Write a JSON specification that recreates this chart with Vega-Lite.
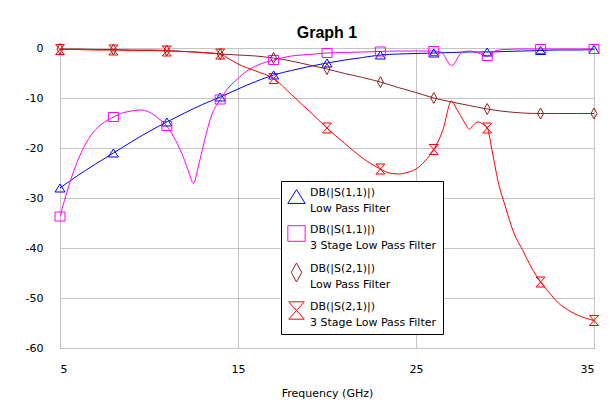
{
  "$schema": "https://vega.github.io/schema/vega-lite/v6.json",
  "autosize": {"type": "none"},
  "padding": {"left": 60, "top": 48, "right": 17, "bottom": 64},
  "width": 534,
  "height": 300,
  "background": "white",
  "title": {"text": "Graph 1", "font": "Liberation Sans", "fontSize": 16, "fontWeight": "bold", "color": "black", "offset": 1, "anchor": "middle"},
  "config": {
    "view": {"stroke": "black", "strokeWidth": 1},
    "axis": {"labelFont": "DejaVu Sans", "labelFontSize": 11, "labelColor": "black", "titleFont": "DejaVu Sans", "titleFontSize": 11, "titleFontWeight": "normal", "titleColor": "black", "gridColor": "#c4c4c4", "gridWidth": 1, "ticks": false, "tickSize": 0, "domain": false, "labelExpr": "'' + datum.value"}
  },
  "datasets": {
    "curves": [
      {"freq": 5, "db": -28, "series": "DB(|S(1,1)|) Low Pass Filter"},
      {"freq": 6, "db": -25.5, "series": "DB(|S(1,1)|) Low Pass Filter"},
      {"freq": 7, "db": -23.2, "series": "DB(|S(1,1)|) Low Pass Filter"},
      {"freq": 8, "db": -21, "series": "DB(|S(1,1)|) Low Pass Filter"},
      {"freq": 9, "db": -18.8, "series": "DB(|S(1,1)|) Low Pass Filter"},
      {"freq": 10, "db": -16.7, "series": "DB(|S(1,1)|) Low Pass Filter"},
      {"freq": 11, "db": -14.8, "series": "DB(|S(1,1)|) Low Pass Filter"},
      {"freq": 12, "db": -13, "series": "DB(|S(1,1)|) Low Pass Filter"},
      {"freq": 13, "db": -11.3, "series": "DB(|S(1,1)|) Low Pass Filter"},
      {"freq": 14, "db": -9.8, "series": "DB(|S(1,1)|) Low Pass Filter"},
      {"freq": 15, "db": -8.2, "series": "DB(|S(1,1)|) Low Pass Filter"},
      {"freq": 16, "db": -6.7, "series": "DB(|S(1,1)|) Low Pass Filter"},
      {"freq": 17, "db": -5.4, "series": "DB(|S(1,1)|) Low Pass Filter"},
      {"freq": 18, "db": -4.5, "series": "DB(|S(1,1)|) Low Pass Filter"},
      {"freq": 19, "db": -3.7, "series": "DB(|S(1,1)|) Low Pass Filter"},
      {"freq": 20, "db": -3.0, "series": "DB(|S(1,1)|) Low Pass Filter"},
      {"freq": 21, "db": -2.4, "series": "DB(|S(1,1)|) Low Pass Filter"},
      {"freq": 22, "db": -1.9, "series": "DB(|S(1,1)|) Low Pass Filter"},
      {"freq": 23, "db": -1.4, "series": "DB(|S(1,1)|) Low Pass Filter"},
      {"freq": 24, "db": -1.2, "series": "DB(|S(1,1)|) Low Pass Filter"},
      {"freq": 25, "db": -1.1, "series": "DB(|S(1,1)|) Low Pass Filter"},
      {"freq": 26, "db": -1.0, "series": "DB(|S(1,1)|) Low Pass Filter"},
      {"freq": 27, "db": -0.9, "series": "DB(|S(1,1)|) Low Pass Filter"},
      {"freq": 28, "db": -0.8, "series": "DB(|S(1,1)|) Low Pass Filter"},
      {"freq": 29, "db": -0.8, "series": "DB(|S(1,1)|) Low Pass Filter"},
      {"freq": 30, "db": -0.7, "series": "DB(|S(1,1)|) Low Pass Filter"},
      {"freq": 31, "db": -0.6, "series": "DB(|S(1,1)|) Low Pass Filter"},
      {"freq": 32, "db": -0.5, "series": "DB(|S(1,1)|) Low Pass Filter"},
      {"freq": 33, "db": -0.4, "series": "DB(|S(1,1)|) Low Pass Filter"},
      {"freq": 34, "db": -0.4, "series": "DB(|S(1,1)|) Low Pass Filter"},
      {"freq": 35, "db": -0.3, "series": "DB(|S(1,1)|) Low Pass Filter"},

      {"freq": 5, "db": -33.7, "series": "DB(|S(1,1)|) 3 Stage Low Pass Filter"},
      {"freq": 5.25, "db": -30.5, "series": "DB(|S(1,1)|) 3 Stage Low Pass Filter"},
      {"freq": 5.5, "db": -27.5, "series": "DB(|S(1,1)|) 3 Stage Low Pass Filter"},
      {"freq": 6, "db": -22.5, "series": "DB(|S(1,1)|) 3 Stage Low Pass Filter"},
      {"freq": 6.5, "db": -18.8, "series": "DB(|S(1,1)|) 3 Stage Low Pass Filter"},
      {"freq": 7, "db": -16.3, "series": "DB(|S(1,1)|) 3 Stage Low Pass Filter"},
      {"freq": 7.5, "db": -14.8, "series": "DB(|S(1,1)|) 3 Stage Low Pass Filter"},
      {"freq": 8, "db": -13.8, "series": "DB(|S(1,1)|) 3 Stage Low Pass Filter"},
      {"freq": 8.5, "db": -13.0, "series": "DB(|S(1,1)|) 3 Stage Low Pass Filter"},
      {"freq": 9, "db": -12.6, "series": "DB(|S(1,1)|) 3 Stage Low Pass Filter"},
      {"freq": 9.5, "db": -12.4, "series": "DB(|S(1,1)|) 3 Stage Low Pass Filter"},
      {"freq": 10, "db": -12.8, "series": "DB(|S(1,1)|) 3 Stage Low Pass Filter"},
      {"freq": 10.5, "db": -14.0, "series": "DB(|S(1,1)|) 3 Stage Low Pass Filter"},
      {"freq": 11, "db": -15.6, "series": "DB(|S(1,1)|) 3 Stage Low Pass Filter"},
      {"freq": 11.5, "db": -18.5, "series": "DB(|S(1,1)|) 3 Stage Low Pass Filter"},
      {"freq": 12, "db": -22.5, "series": "DB(|S(1,1)|) 3 Stage Low Pass Filter"},
      {"freq": 12.25, "db": -25, "series": "DB(|S(1,1)|) 3 Stage Low Pass Filter"},
      {"freq": 12.5, "db": -27.1, "series": "DB(|S(1,1)|) 3 Stage Low Pass Filter"},
      {"freq": 12.75, "db": -24, "series": "DB(|S(1,1)|) 3 Stage Low Pass Filter"},
      {"freq": 13, "db": -20.3, "series": "DB(|S(1,1)|) 3 Stage Low Pass Filter"},
      {"freq": 13.5, "db": -13.6, "series": "DB(|S(1,1)|) 3 Stage Low Pass Filter"},
      {"freq": 14, "db": -10.3, "series": "DB(|S(1,1)|) 3 Stage Low Pass Filter"},
      {"freq": 14.5, "db": -7.8, "series": "DB(|S(1,1)|) 3 Stage Low Pass Filter"},
      {"freq": 15, "db": -6.1, "series": "DB(|S(1,1)|) 3 Stage Low Pass Filter"},
      {"freq": 15.5, "db": -4.6, "series": "DB(|S(1,1)|) 3 Stage Low Pass Filter"},
      {"freq": 16, "db": -3.6, "series": "DB(|S(1,1)|) 3 Stage Low Pass Filter"},
      {"freq": 16.5, "db": -2.9, "series": "DB(|S(1,1)|) 3 Stage Low Pass Filter"},
      {"freq": 17, "db": -2.4, "series": "DB(|S(1,1)|) 3 Stage Low Pass Filter"},
      {"freq": 18, "db": -1.6, "series": "DB(|S(1,1)|) 3 Stage Low Pass Filter"},
      {"freq": 19, "db": -1.3, "series": "DB(|S(1,1)|) 3 Stage Low Pass Filter"},
      {"freq": 20, "db": -1.0, "series": "DB(|S(1,1)|) 3 Stage Low Pass Filter"},
      {"freq": 21, "db": -0.9, "series": "DB(|S(1,1)|) 3 Stage Low Pass Filter"},
      {"freq": 22, "db": -0.8, "series": "DB(|S(1,1)|) 3 Stage Low Pass Filter"},
      {"freq": 23, "db": -0.7, "series": "DB(|S(1,1)|) 3 Stage Low Pass Filter"},
      {"freq": 24, "db": -0.6, "series": "DB(|S(1,1)|) 3 Stage Low Pass Filter"},
      {"freq": 25, "db": -0.6, "series": "DB(|S(1,1)|) 3 Stage Low Pass Filter"},
      {"freq": 26, "db": -0.6, "series": "DB(|S(1,1)|) 3 Stage Low Pass Filter"},
      {"freq": 26.4, "db": -0.8, "series": "DB(|S(1,1)|) 3 Stage Low Pass Filter"},
      {"freq": 27, "db": -3.5, "series": "DB(|S(1,1)|) 3 Stage Low Pass Filter"},
      {"freq": 27.6, "db": -0.8, "series": "DB(|S(1,1)|) 3 Stage Low Pass Filter"},
      {"freq": 28, "db": -0.6, "series": "DB(|S(1,1)|) 3 Stage Low Pass Filter"},
      {"freq": 28.5, "db": -1.0, "series": "DB(|S(1,1)|) 3 Stage Low Pass Filter"},
      {"freq": 29, "db": -1.6, "series": "DB(|S(1,1)|) 3 Stage Low Pass Filter"},
      {"freq": 29.5, "db": -0.5, "series": "DB(|S(1,1)|) 3 Stage Low Pass Filter"},
      {"freq": 30, "db": -0.3, "series": "DB(|S(1,1)|) 3 Stage Low Pass Filter"},
      {"freq": 31, "db": -0.2, "series": "DB(|S(1,1)|) 3 Stage Low Pass Filter"},
      {"freq": 32, "db": -0.2, "series": "DB(|S(1,1)|) 3 Stage Low Pass Filter"},
      {"freq": 33, "db": -0.2, "series": "DB(|S(1,1)|) 3 Stage Low Pass Filter"},
      {"freq": 34, "db": -0.2, "series": "DB(|S(1,1)|) 3 Stage Low Pass Filter"},
      {"freq": 35, "db": -0.2, "series": "DB(|S(1,1)|) 3 Stage Low Pass Filter"},

      {"freq": 5, "db": -0.2, "series": "DB(|S(2,1)|) Low Pass Filter"},
      {"freq": 6, "db": -0.2, "series": "DB(|S(2,1)|) Low Pass Filter"},
      {"freq": 7, "db": -0.3, "series": "DB(|S(2,1)|) Low Pass Filter"},
      {"freq": 8, "db": -0.3, "series": "DB(|S(2,1)|) Low Pass Filter"},
      {"freq": 9, "db": -0.4, "series": "DB(|S(2,1)|) Low Pass Filter"},
      {"freq": 10, "db": -0.4, "series": "DB(|S(2,1)|) Low Pass Filter"},
      {"freq": 11, "db": -0.5, "series": "DB(|S(2,1)|) Low Pass Filter"},
      {"freq": 12, "db": -0.7, "series": "DB(|S(2,1)|) Low Pass Filter"},
      {"freq": 13, "db": -0.9, "series": "DB(|S(2,1)|) Low Pass Filter"},
      {"freq": 14, "db": -1.2, "series": "DB(|S(2,1)|) Low Pass Filter"},
      {"freq": 15, "db": -1.4, "series": "DB(|S(2,1)|) Low Pass Filter"},
      {"freq": 16, "db": -1.6, "series": "DB(|S(2,1)|) Low Pass Filter"},
      {"freq": 17, "db": -2.0, "series": "DB(|S(2,1)|) Low Pass Filter"},
      {"freq": 18, "db": -2.6, "series": "DB(|S(2,1)|) Low Pass Filter"},
      {"freq": 19, "db": -3.4, "series": "DB(|S(2,1)|) Low Pass Filter"},
      {"freq": 20, "db": -4.2, "series": "DB(|S(2,1)|) Low Pass Filter"},
      {"freq": 21, "db": -5.1, "series": "DB(|S(2,1)|) Low Pass Filter"},
      {"freq": 22, "db": -5.9, "series": "DB(|S(2,1)|) Low Pass Filter"},
      {"freq": 23, "db": -6.8, "series": "DB(|S(2,1)|) Low Pass Filter"},
      {"freq": 24, "db": -7.9, "series": "DB(|S(2,1)|) Low Pass Filter"},
      {"freq": 25, "db": -8.9, "series": "DB(|S(2,1)|) Low Pass Filter"},
      {"freq": 26, "db": -10.0, "series": "DB(|S(2,1)|) Low Pass Filter"},
      {"freq": 27, "db": -10.8, "series": "DB(|S(2,1)|) Low Pass Filter"},
      {"freq": 28, "db": -11.5, "series": "DB(|S(2,1)|) Low Pass Filter"},
      {"freq": 29, "db": -12.2, "series": "DB(|S(2,1)|) Low Pass Filter"},
      {"freq": 30, "db": -12.7, "series": "DB(|S(2,1)|) Low Pass Filter"},
      {"freq": 31, "db": -13.0, "series": "DB(|S(2,1)|) Low Pass Filter"},
      {"freq": 32, "db": -13.1, "series": "DB(|S(2,1)|) Low Pass Filter"},
      {"freq": 33, "db": -13.1, "series": "DB(|S(2,1)|) Low Pass Filter"},
      {"freq": 34, "db": -13.1, "series": "DB(|S(2,1)|) Low Pass Filter"},
      {"freq": 35, "db": -13.1, "series": "DB(|S(2,1)|) Low Pass Filter"},

      {"freq": 5, "db": -0.3, "series": "DB(|S(2,1)|) 3 Stage Low Pass Filter"},
      {"freq": 6, "db": -0.3, "series": "DB(|S(2,1)|) 3 Stage Low Pass Filter"},
      {"freq": 7, "db": -0.4, "series": "DB(|S(2,1)|) 3 Stage Low Pass Filter"},
      {"freq": 8, "db": -0.4, "series": "DB(|S(2,1)|) 3 Stage Low Pass Filter"},
      {"freq": 9, "db": -0.5, "series": "DB(|S(2,1)|) 3 Stage Low Pass Filter"},
      {"freq": 10, "db": -0.5, "series": "DB(|S(2,1)|) 3 Stage Low Pass Filter"},
      {"freq": 11, "db": -0.6, "series": "DB(|S(2,1)|) 3 Stage Low Pass Filter"},
      {"freq": 12, "db": -0.7, "series": "DB(|S(2,1)|) 3 Stage Low Pass Filter"},
      {"freq": 13, "db": -0.9, "series": "DB(|S(2,1)|) 3 Stage Low Pass Filter"},
      {"freq": 14, "db": -1.2, "series": "DB(|S(2,1)|) 3 Stage Low Pass Filter"},
      {"freq": 14.5, "db": -2.2, "series": "DB(|S(2,1)|) 3 Stage Low Pass Filter"},
      {"freq": 15, "db": -3.2, "series": "DB(|S(2,1)|) 3 Stage Low Pass Filter"},
      {"freq": 16, "db": -4.6, "series": "DB(|S(2,1)|) 3 Stage Low Pass Filter"},
      {"freq": 17, "db": -6.1, "series": "DB(|S(2,1)|) 3 Stage Low Pass Filter"},
      {"freq": 18, "db": -9.3, "series": "DB(|S(2,1)|) 3 Stage Low Pass Filter"},
      {"freq": 19, "db": -12.6, "series": "DB(|S(2,1)|) 3 Stage Low Pass Filter"},
      {"freq": 20, "db": -16.0, "series": "DB(|S(2,1)|) 3 Stage Low Pass Filter"},
      {"freq": 21, "db": -19.1, "series": "DB(|S(2,1)|) 3 Stage Low Pass Filter"},
      {"freq": 22, "db": -22.0, "series": "DB(|S(2,1)|) 3 Stage Low Pass Filter"},
      {"freq": 23, "db": -24.2, "series": "DB(|S(2,1)|) 3 Stage Low Pass Filter"},
      {"freq": 23.5, "db": -25.0, "series": "DB(|S(2,1)|) 3 Stage Low Pass Filter"},
      {"freq": 24, "db": -25.2, "series": "DB(|S(2,1)|) 3 Stage Low Pass Filter"},
      {"freq": 24.5, "db": -24.9, "series": "DB(|S(2,1)|) 3 Stage Low Pass Filter"},
      {"freq": 25, "db": -24.2, "series": "DB(|S(2,1)|) 3 Stage Low Pass Filter"},
      {"freq": 25.5, "db": -22.6, "series": "DB(|S(2,1)|) 3 Stage Low Pass Filter"},
      {"freq": 26, "db": -20.3, "series": "DB(|S(2,1)|) 3 Stage Low Pass Filter"},
      {"freq": 26.5, "db": -16.5, "series": "DB(|S(2,1)|) 3 Stage Low Pass Filter"},
      {"freq": 27, "db": -10.6, "series": "DB(|S(2,1)|) 3 Stage Low Pass Filter"},
      {"freq": 27.25, "db": -12.0, "series": "DB(|S(2,1)|) 3 Stage Low Pass Filter"},
      {"freq": 27.5, "db": -13.5, "series": "DB(|S(2,1)|) 3 Stage Low Pass Filter"},
      {"freq": 27.75, "db": -15.0, "series": "DB(|S(2,1)|) 3 Stage Low Pass Filter"},
      {"freq": 28, "db": -16.2, "series": "DB(|S(2,1)|) 3 Stage Low Pass Filter"},
      {"freq": 28.25, "db": -15.3, "series": "DB(|S(2,1)|) 3 Stage Low Pass Filter"},
      {"freq": 28.5, "db": -14.8, "series": "DB(|S(2,1)|) 3 Stage Low Pass Filter"},
      {"freq": 28.75, "db": -15.2, "series": "DB(|S(2,1)|) 3 Stage Low Pass Filter"},
      {"freq": 29, "db": -16.0, "series": "DB(|S(2,1)|) 3 Stage Low Pass Filter"},
      {"freq": 29.3, "db": -21.0, "series": "DB(|S(2,1)|) 3 Stage Low Pass Filter"},
      {"freq": 29.6, "db": -26.5, "series": "DB(|S(2,1)|) 3 Stage Low Pass Filter"},
      {"freq": 30, "db": -31.5, "series": "DB(|S(2,1)|) 3 Stage Low Pass Filter"},
      {"freq": 30.5, "db": -37.0, "series": "DB(|S(2,1)|) 3 Stage Low Pass Filter"},
      {"freq": 31, "db": -40.5, "series": "DB(|S(2,1)|) 3 Stage Low Pass Filter"},
      {"freq": 31.5, "db": -44.0, "series": "DB(|S(2,1)|) 3 Stage Low Pass Filter"},
      {"freq": 32, "db": -46.8, "series": "DB(|S(2,1)|) 3 Stage Low Pass Filter"},
      {"freq": 32.5, "db": -49.0, "series": "DB(|S(2,1)|) 3 Stage Low Pass Filter"},
      {"freq": 33, "db": -51.0, "series": "DB(|S(2,1)|) 3 Stage Low Pass Filter"},
      {"freq": 33.5, "db": -52.3, "series": "DB(|S(2,1)|) 3 Stage Low Pass Filter"},
      {"freq": 34, "db": -53.3, "series": "DB(|S(2,1)|) 3 Stage Low Pass Filter"},
      {"freq": 34.5, "db": -54.0, "series": "DB(|S(2,1)|) 3 Stage Low Pass Filter"},
      {"freq": 35, "db": -54.5, "series": "DB(|S(2,1)|) 3 Stage Low Pass Filter"}
    ],
    "markers": [
      {"freq": 5, "db": -28, "series": "DB(|S(1,1)|) Low Pass Filter"},
      {"freq": 8, "db": -21, "series": "DB(|S(1,1)|) Low Pass Filter"},
      {"freq": 11, "db": -14.8, "series": "DB(|S(1,1)|) Low Pass Filter"},
      {"freq": 14, "db": -9.8, "series": "DB(|S(1,1)|) Low Pass Filter"},
      {"freq": 17, "db": -5.4, "series": "DB(|S(1,1)|) Low Pass Filter"},
      {"freq": 20, "db": -3.0, "series": "DB(|S(1,1)|) Low Pass Filter"},
      {"freq": 23, "db": -1.4, "series": "DB(|S(1,1)|) Low Pass Filter"},
      {"freq": 26, "db": -1.0, "series": "DB(|S(1,1)|) Low Pass Filter"},
      {"freq": 29, "db": -0.8, "series": "DB(|S(1,1)|) Low Pass Filter"},
      {"freq": 32, "db": -0.5, "series": "DB(|S(1,1)|) Low Pass Filter"},
      {"freq": 35, "db": -0.3, "series": "DB(|S(1,1)|) Low Pass Filter"},
      {"freq": 5, "db": -33.7, "series": "DB(|S(1,1)|) 3 Stage Low Pass Filter"},
      {"freq": 8, "db": -13.8, "series": "DB(|S(1,1)|) 3 Stage Low Pass Filter"},
      {"freq": 11, "db": -15.6, "series": "DB(|S(1,1)|) 3 Stage Low Pass Filter"},
      {"freq": 14, "db": -10.3, "series": "DB(|S(1,1)|) 3 Stage Low Pass Filter"},
      {"freq": 17, "db": -2.4, "series": "DB(|S(1,1)|) 3 Stage Low Pass Filter"},
      {"freq": 20, "db": -1.0, "series": "DB(|S(1,1)|) 3 Stage Low Pass Filter"},
      {"freq": 23, "db": -0.7, "series": "DB(|S(1,1)|) 3 Stage Low Pass Filter"},
      {"freq": 26, "db": -0.6, "series": "DB(|S(1,1)|) 3 Stage Low Pass Filter"},
      {"freq": 29, "db": -1.6, "series": "DB(|S(1,1)|) 3 Stage Low Pass Filter"},
      {"freq": 32, "db": -0.2, "series": "DB(|S(1,1)|) 3 Stage Low Pass Filter"},
      {"freq": 35, "db": -0.2, "series": "DB(|S(1,1)|) 3 Stage Low Pass Filter"},
      {"freq": 5, "db": -0.2, "series": "DB(|S(2,1)|) Low Pass Filter"},
      {"freq": 8, "db": -0.3, "series": "DB(|S(2,1)|) Low Pass Filter"},
      {"freq": 11, "db": -0.5, "series": "DB(|S(2,1)|) Low Pass Filter"},
      {"freq": 14, "db": -1.2, "series": "DB(|S(2,1)|) Low Pass Filter"},
      {"freq": 17, "db": -2.0, "series": "DB(|S(2,1)|) Low Pass Filter"},
      {"freq": 20, "db": -4.2, "series": "DB(|S(2,1)|) Low Pass Filter"},
      {"freq": 23, "db": -6.8, "series": "DB(|S(2,1)|) Low Pass Filter"},
      {"freq": 26, "db": -10.0, "series": "DB(|S(2,1)|) Low Pass Filter"},
      {"freq": 29, "db": -12.2, "series": "DB(|S(2,1)|) Low Pass Filter"},
      {"freq": 32, "db": -13.1, "series": "DB(|S(2,1)|) Low Pass Filter"},
      {"freq": 35, "db": -13.1, "series": "DB(|S(2,1)|) Low Pass Filter"},
      {"freq": 5, "db": -0.3, "series": "DB(|S(2,1)|) 3 Stage Low Pass Filter"},
      {"freq": 8, "db": -0.4, "series": "DB(|S(2,1)|) 3 Stage Low Pass Filter"},
      {"freq": 11, "db": -0.6, "series": "DB(|S(2,1)|) 3 Stage Low Pass Filter"},
      {"freq": 14, "db": -1.2, "series": "DB(|S(2,1)|) 3 Stage Low Pass Filter"},
      {"freq": 17, "db": -6.1, "series": "DB(|S(2,1)|) 3 Stage Low Pass Filter"},
      {"freq": 20, "db": -16.0, "series": "DB(|S(2,1)|) 3 Stage Low Pass Filter"},
      {"freq": 23, "db": -24.2, "series": "DB(|S(2,1)|) 3 Stage Low Pass Filter"},
      {"freq": 26, "db": -20.3, "series": "DB(|S(2,1)|) 3 Stage Low Pass Filter"},
      {"freq": 29, "db": -16.0, "series": "DB(|S(2,1)|) 3 Stage Low Pass Filter"},
      {"freq": 32, "db": -46.8, "series": "DB(|S(2,1)|) 3 Stage Low Pass Filter"},
      {"freq": 35, "db": -54.5, "series": "DB(|S(2,1)|) 3 Stage Low Pass Filter"}
    ]
  },
  "encoding": {
    "x": {"field": "freq", "type": "quantitative", "scale": {"domain": [5, 35], "nice": false, "zero": false},
      "axis": {"values": [5, 15, 25, 35], "title": "Frequency (GHz)", "labelPadding": 15, "titlePadding": 13, "grid": true}},
    "y": {"field": "db", "type": "quantitative", "scale": {"domain": [-60, 0], "nice": false, "zero": false},
      "axis": {"values": [-60, -50, -40, -30, -20, -10, 0], "title": null, "labelPadding": 17, "grid": true}},
    "color": {"field": "series", "type": "nominal",
      "scale": {"domain": ["DB(|S(1,1)|) Low Pass Filter", "DB(|S(1,1)|) 3 Stage Low Pass Filter", "DB(|S(2,1)|) Low Pass Filter", "DB(|S(2,1)|) 3 Stage Low Pass Filter"],
        "range": ["#0000ff", "#ff00ff", "#8b2323", "#ff0000"]},
      "legend": {
        "orient": "none", "legendX": 221, "legendY": 133, "title": null,
        "fillColor": "white", "strokeColor": "black", "padding": 6,
        "labelFont": "DejaVu Sans", "labelFontSize": 11, "labelColor": "black", "labelLimit": 0,
        "labelExpr": "[slice(datum.label, 0, 12), slice(datum.label, 13)]",
        "symbolSize": 300, "rowPadding": 9, "labelOffset": 4,
        "encoding": {
          "symbols": {
            "strokeWidth": {"value": 1},
            "opacity": {"value": 1}
          },
          "labels": {"lineHeight": {"value": 16}, "dy": {"value": -4}}
        }
      }
    }
  },
  "layer": [
    {
      "data": {"name": "curves"},
      "mark": {"type": "line", "interpolate": "monotone", "strokeWidth": 1, "clip": true}
    },
    {
      "data": {"name": "markers"},
      "mark": {"type": "point", "filled": false, "size": 100, "strokeWidth": 1, "opacity": 1, "clip": false},
      "encoding": {
        "shape": {"field": "series", "type": "nominal", "legend": null,
          "scale": {"domain": ["DB(|S(1,1)|) Low Pass Filter", "DB(|S(1,1)|) 3 Stage Low Pass Filter", "DB(|S(2,1)|) Low Pass Filter", "DB(|S(2,1)|) 3 Stage Low Pass Filter"],
            "range": ["M-1,0.8L0,-0.8L1,0.8Z", "M-1,-0.9H1V0.9H-1Z", "M0,-1.1L0.6,0L0,1.1L-0.6,0Z", "M-0.9,-1L0.9,-1L-0.9,1L0.9,1Z"]}}
      }
    }
  ]
}
